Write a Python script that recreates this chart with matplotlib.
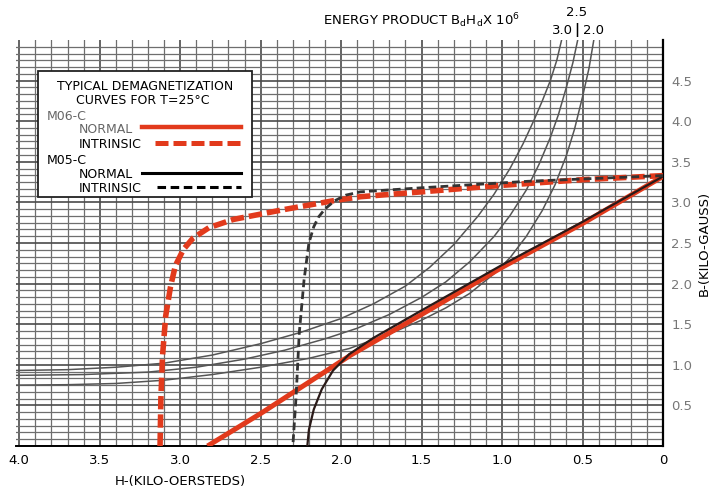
import numpy as np
import matplotlib
matplotlib.use("Agg")
import matplotlib.pyplot as plt
from matplotlib.lines import Line2D
from matplotlib.patches import Rectangle

# ---------------------------------------------------------------------------
# Data (H in kilo-oersteds, B in kilo-gauss)
# ---------------------------------------------------------------------------
m06_normal_h = [0.0, 0.5, 1.0, 1.5, 1.94, 2.5, 2.83]
m06_normal_b = [3.32, 2.74, 2.20, 1.62, 1.12, 0.40, 0.0]

m06_intr_h = [0.0, 0.5, 1.0, 1.5, 1.88, 2.05, 2.36, 2.67, 2.82, 2.92, 2.98, 3.03, 3.06, 3.09, 3.11, 3.12, 3.125]
m06_intr_b = [3.33, 3.28, 3.21, 3.13, 3.07, 3.02, 2.91, 2.79, 2.69, 2.56, 2.42, 2.22, 1.96, 1.60, 1.10, 0.57, 0.0]

m05_normal_h = [0.0, 0.5, 1.0, 1.5, 1.8, 1.95, 2.05, 2.12, 2.17, 2.20, 2.21]
m05_normal_b = [3.32, 2.76, 2.23, 1.67, 1.33, 1.13, 0.93, 0.70, 0.45, 0.20, 0.0]

m05_intr_h = [0.0, 0.84, 1.5, 1.88, 1.97, 2.04, 2.10, 2.14, 2.17, 2.20, 2.23, 2.26, 2.28, 2.30]
m05_intr_b = [3.33, 3.26, 3.18, 3.13, 3.09, 3.02, 2.92, 2.82, 2.70, 2.50, 2.05, 1.39, 0.60, 0.0]

# energy product curves (labelled 3.0, 2.5, 2.0 at the top)
ep_labels = ["3.0", "2.5", "2.0"]
ep30_h = [0.63, 0.66, 0.70, 0.75, 0.80, 0.87, 0.95, 1.05, 1.15, 1.3, 1.45, 1.6, 1.8,
          2.0, 2.25, 2.5, 2.8, 3.1, 3.4, 3.7, 4.02]
ep30_b = [5.0, 4.75, 4.50, 4.25, 4.02, 3.72, 3.42, 3.10, 2.83, 2.48, 2.20, 1.97, 1.75,
          1.57, 1.40, 1.26, 1.12, 1.02, 0.97, 0.94, 0.93]
ep25_h = [0.53, 0.56, 0.60, 0.65, 0.70, 0.77, 0.85, 0.95, 1.05, 1.2, 1.35, 1.5, 1.7,
          1.9, 2.1, 2.35, 2.6, 2.9, 3.2, 3.6, 4.02]
ep25_b = [5.0, 4.72, 4.42, 4.08, 3.80, 3.47, 3.15, 2.84, 2.58, 2.27, 2.02, 1.83, 1.62,
          1.45, 1.32, 1.18, 1.07, 0.97, 0.91, 0.88, 0.87]
ep20_h = [0.43, 0.46, 0.50, 0.55, 0.60, 0.67, 0.75, 0.85, 0.95, 1.05, 1.2, 1.35, 1.5,
          1.7, 1.95, 2.2, 2.5, 2.8, 3.1, 3.4, 3.7, 4.02]
ep20_b = [5.0, 4.65, 4.30, 3.90, 3.58, 3.22, 2.90, 2.58, 2.32, 2.12, 1.88, 1.70, 1.55,
          1.38, 1.20, 1.08, 0.97, 0.88, 0.81, 0.77, 0.755, 0.75]

x_ticks = [4.0, 3.5, 3.0, 2.5, 2.0, 1.5, 1.0, 0.5, 0.0]
x_ticklabels = ["4.0", "3.5", "3.0", "2.5", "2.0", "1.5", "1.0", "0.5", "0"]
y_ticks = [0.5, 1.0, 1.5, 2.0, 2.5, 3.0, 3.5, 4.0, 4.5]
y_ticklabels = ["0.5", "1.0", "1.5", "2.0", "2.5", "3.0", "3.5", "4.0", "4.5"]

RED = "#e23a1c"
W, H = 723, 490


def fx(px):
    return px / W


def fy(py):
    return 1 - py / H


fig = plt.figure(figsize=(W / 100, H / 100), dpi=100)
ax = fig.add_axes([fx(16), fy(446), fx(663) - fx(16), fy(40) - fy(446)])
ax.set_xlim(4.02, 0)
ax.set_ylim(0, 5.0)

# graph-paper grid
for v in np.arange(0.0, 4.05, 0.1):
    heavy = abs(v / 0.5 - round(v / 0.5)) < 1e-6
    ax.axvline(v, color="#4a4a4a" if heavy else "#6e6e6e", lw=1.2 if heavy else 0.9, zorder=1)
for v in np.arange(0.0, 5.0, 0.5 / 6):
    heavy = abs(v / 0.5 - round(v / 0.5)) < 1e-6
    ax.axhline(v, color="#4a4a4a" if heavy else "#6e6e6e", lw=1.2 if heavy else 0.9, zorder=1)

# energy product curves
for h, b in [(ep30_h, ep30_b), (ep25_h, ep25_b), (ep20_h, ep20_b)]:
    ax.plot(h, b, color="#555555", lw=1.1, zorder=2)

# demagnetization curves
ax.plot(m06_normal_h, m06_normal_b, color=RED, lw=3.6, zorder=3, solid_capstyle="butt")
ax.plot(m05_normal_h, m05_normal_b, color="#2a1a18", lw=1.6, zorder=4)
ax.plot(m06_intr_h, m06_intr_b, color=RED, lw=4.0, dashes=(2.4, 0.9), zorder=3)
ax.plot(m05_intr_h, m05_intr_b, color="#333333", lw=2.0, dashes=(2.8, 1.5), zorder=4)

for s in ax.spines.values():
    s.set_visible(False)
ax.spines["right"].set_visible(True)
ax.spines["right"].set_linewidth(1.6)
ax.spines["bottom"].set_visible(True)
ax.spines["bottom"].set_linewidth(1.4)

ax.set_xticks(x_ticks)
ax.set_xticklabels(x_ticklabels, fontsize=9.5)
ax.yaxis.tick_right()
ax.set_yticks(y_ticks)
ax.set_yticklabels(y_ticklabels, fontsize=9.5, color="#777777")
ax.tick_params(length=0, pad=6)
ax.yaxis.set_label_position("right")
ax.set_ylabel("B-(KILO-GAUSS)", fontsize=9.5, labelpad=4)
fig.text(fx(180), fy(481), "H-(KILO-OERSTEDS)", fontsize=9.5, ha="center", va="center")

# top labels
fig.text(fx(323), fy(21), "ENERGY PRODUCT B$_{\\mathrm{d}}$H$_{\\mathrm{d}}$X 10$^{6}$",
         fontsize=9.5, va="center", ha="left")
fig.text(fx(577), fy(13), "2.5", fontsize=9.5, ha="center", va="center")
fig.text(fx(562), fy(30), "3.0", fontsize=9.5, ha="center", va="center")
fig.text(fx(577), fy(30), "|", fontsize=10, ha="center", va="center", fontweight="bold")
fig.text(fx(594), fy(30), "2.0", fontsize=9.5, ha="center", va="center")

# legend box
fig.add_artist(Rectangle((fx(38), fy(197)), fx(252) - fx(38), fy(71) - fy(197),
                         transform=fig.transFigure, facecolor="white",
                         edgecolor="#222222", lw=1.3, zorder=5))
fig.text(fx(145), fy(87), "TYPICAL DEMAGNETIZATION", fontsize=9, ha="center", va="center", zorder=6)
fig.text(fx(143), fy(100), "CURVES FOR T=25°C", fontsize=9, ha="center", va="center", zorder=6)
fig.text(fx(47), fy(116), "M06-C", fontsize=9, va="center", color="#666666", zorder=6)
fig.text(fx(79), fy(129), "NORMAL", fontsize=9, va="center", color="#666666", zorder=6)
fig.text(fx(79), fy(144), "INTRINSIC", fontsize=9, va="center", zorder=6)
fig.text(fx(47), fy(160), "M05-C", fontsize=9, va="center", zorder=6)
fig.text(fx(79), fy(174), "NORMAL", fontsize=9, va="center", zorder=6)
fig.text(fx(79), fy(188), "INTRINSIC", fontsize=9, va="center", zorder=6)

fig.add_artist(Line2D([fx(142), fx(241)], [fy(127), fy(127)], color=RED, lw=3.2, zorder=6))
fig.add_artist(Line2D([fx(155), fx(241)], [fy(143), fy(143)], color=RED, lw=3.6,
                      dashes=(2.6, 1.0), zorder=6))
fig.add_artist(Line2D([fx(142), fx(241)], [fy(173), fy(173)], color="black", lw=2.2, zorder=6))
fig.add_artist(Line2D([fx(157), fx(241)], [fy(187), fy(187)], color="black", lw=2.2,
                      dashes=(2.8, 1.5), zorder=6))

fig.savefig("out.png", dpi=100)
